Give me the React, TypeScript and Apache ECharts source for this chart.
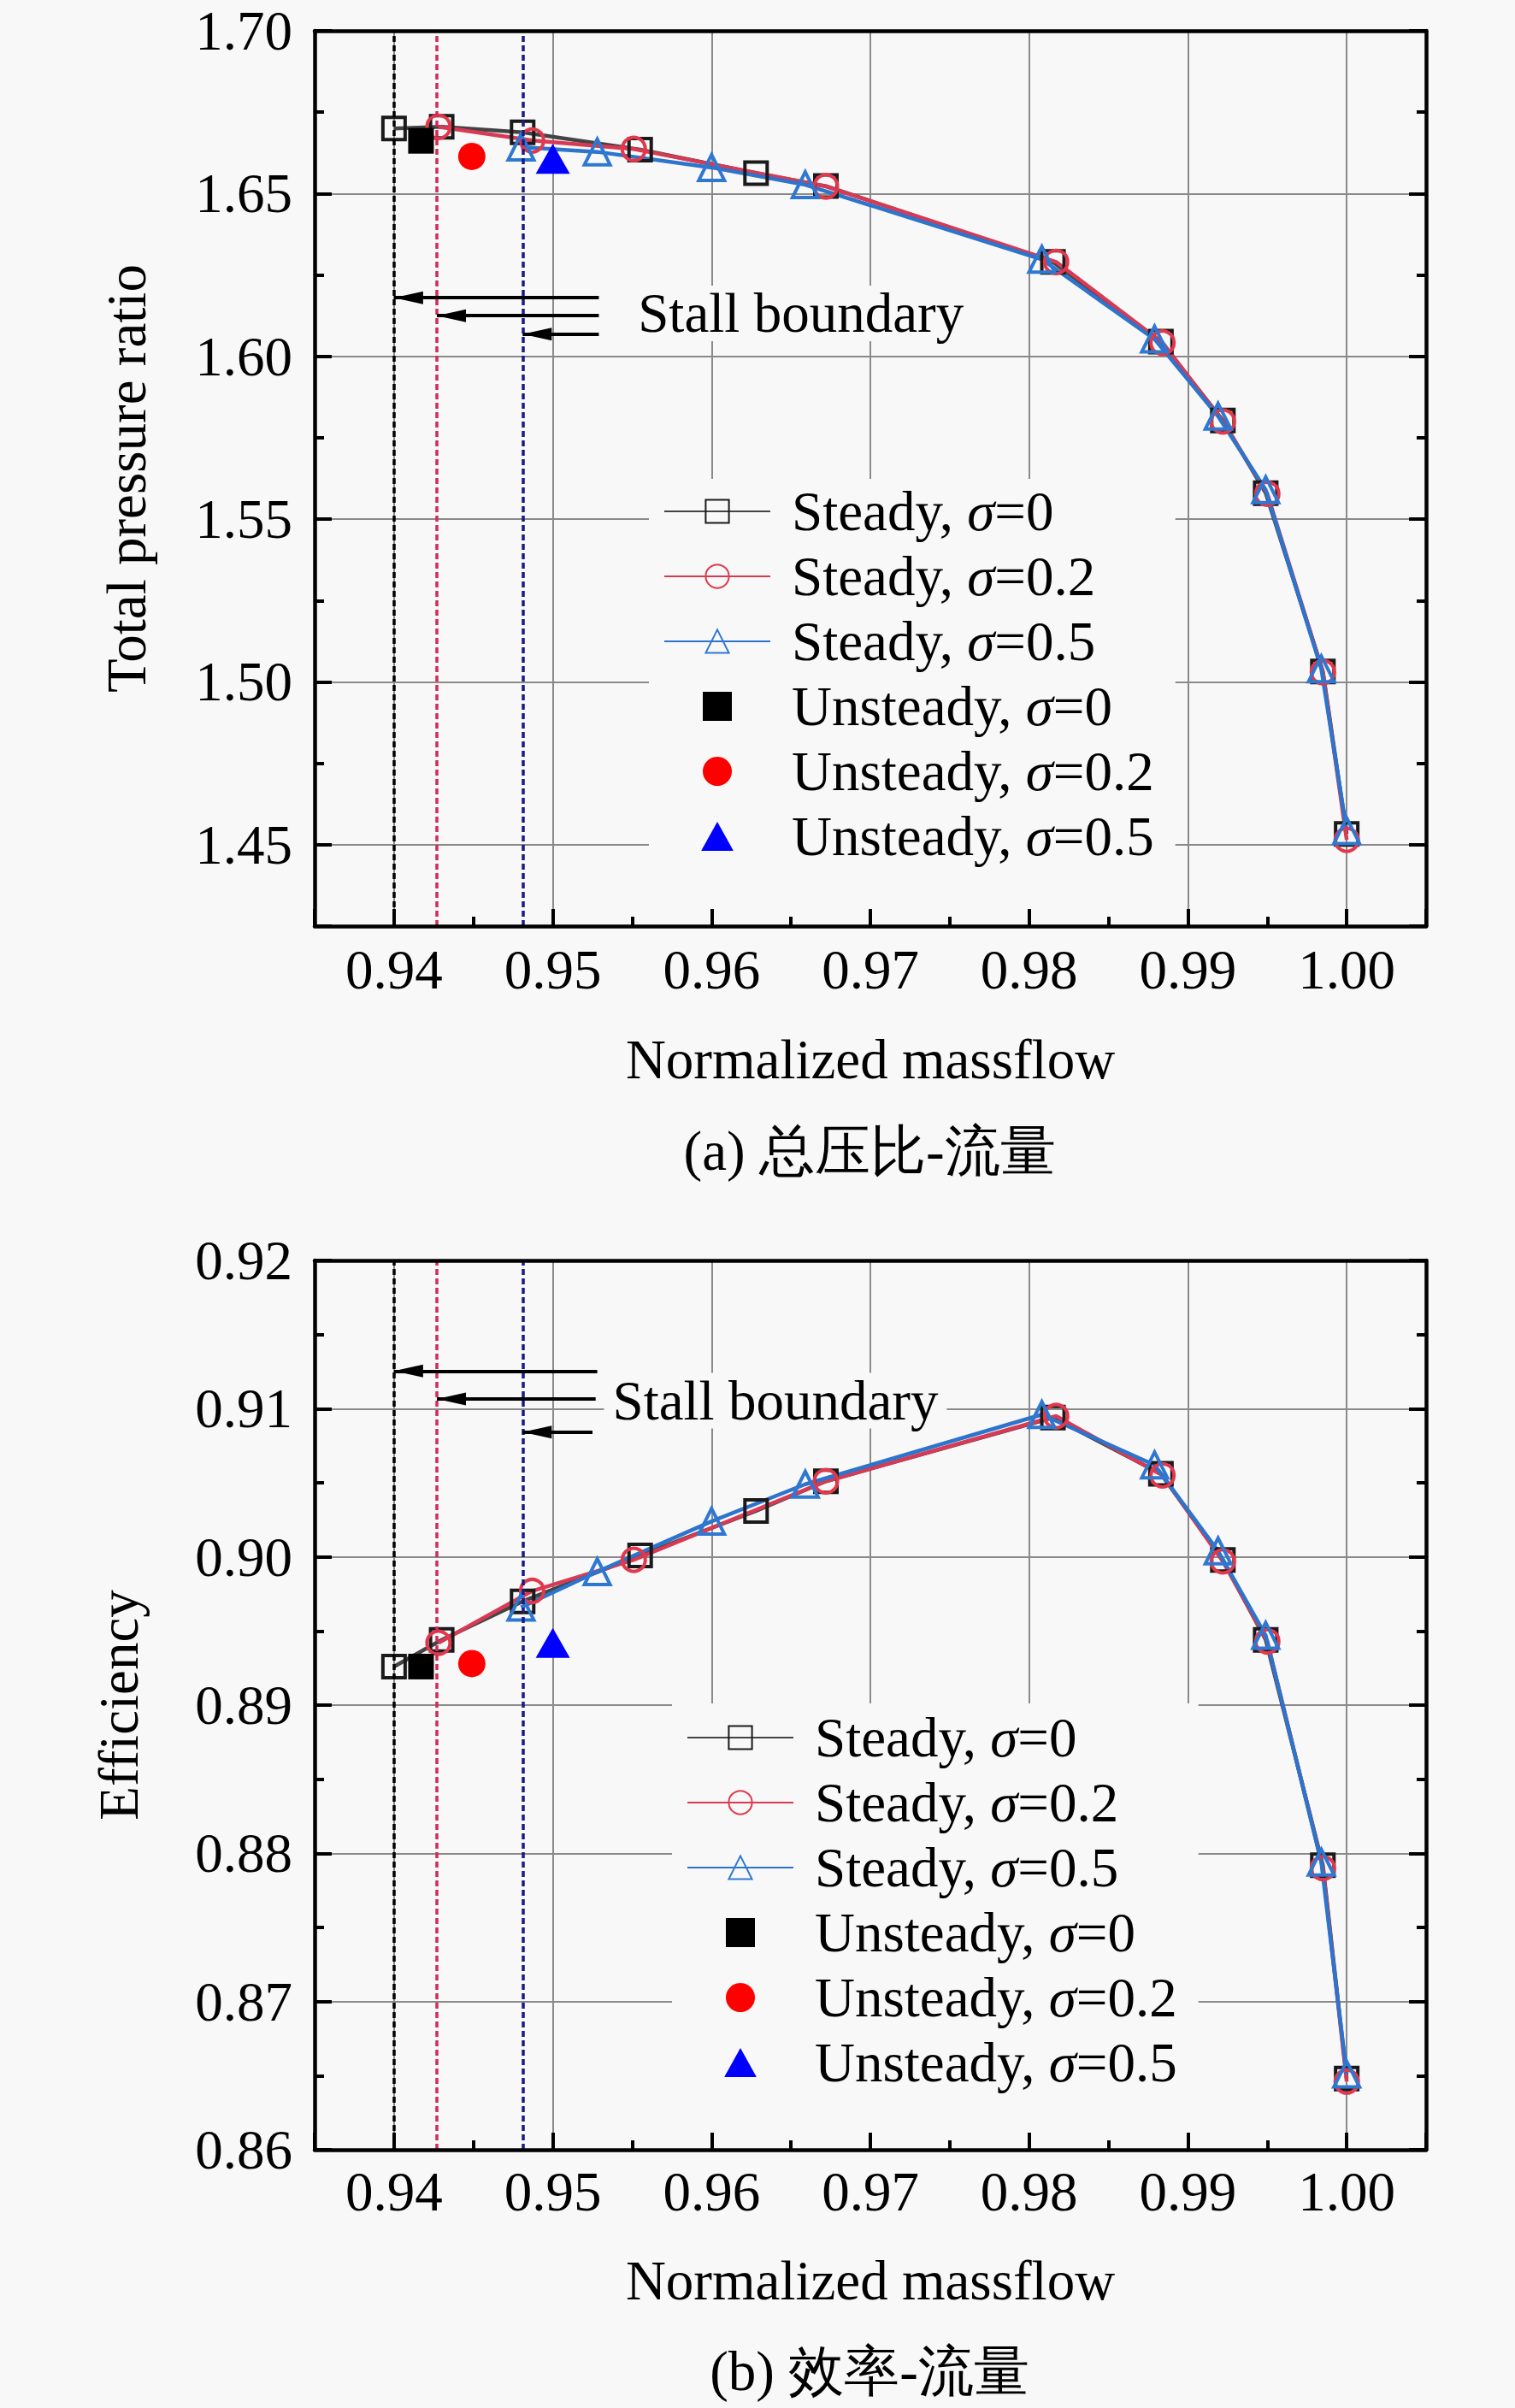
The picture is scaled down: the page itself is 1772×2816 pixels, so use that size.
import { useEffect, useRef } from 'react'
import * as echarts from 'echarts'

const FONT = 'Liberation Serif'
const BG = '#f8f8f8'
const FS = 65

const seriesNames = [
  'Steady, σ=0',
  'Steady, σ=0.2',
  'Steady, σ=0.5',
  'Unsteady, σ=0',
  'Unsteady, σ=0.2',
  'Unsteady, σ=0.5',
]

// steady, sigma = 0
const flowS0 = [0.94, 0.943, 0.9481, 0.9555, 0.9628, 0.9672, 0.9815, 0.9883, 0.9922, 0.9949, 0.9985, 1.0]
const prS0 = [1.67, 1.6705, 1.6688, 1.6635, 1.6563, 1.6523, 1.629, 1.6045, 1.5803, 1.558, 1.5032, 1.4533]
const effS0 = [0.8926, 0.8944, 0.897, 0.9001, 0.9031, 0.9051, 0.9094, 0.9056, 0.8998, 0.8944, 0.8792, 0.8648]

// steady, sigma = 0.2
const flowS2 = [0.9428, 0.9487, 0.9551, 0.9672, 0.9817, 0.9884, 0.9922, 0.995, 0.9985, 1.0]
const prS2 = [1.6705, 1.6663, 1.6637, 1.6522, 1.629, 1.6042, 1.58, 1.5578, 1.503, 1.4515]
const effS2 = [0.8942, 0.8977, 0.8998, 0.9051, 0.9095, 0.9055, 0.8997, 0.8943, 0.879, 0.8646]

// steady, sigma = 0.5
const flowS5 = [0.948, 0.9528, 0.96, 0.9659, 0.9808, 0.9879, 0.9919, 0.9949, 0.9984, 1.0]
const prS5 = [1.6643, 1.6628, 1.658, 1.6527, 1.6298, 1.6053, 1.5816, 1.559, 1.504, 1.4543]
const effS5 = [0.8966, 0.899, 0.9024, 0.9049, 0.9096, 0.9062, 0.9004, 0.8947, 0.8794, 0.8651]

// unsteady: sigma = 0, 0.2, 0.5
const flowU = [0.9417, 0.9449, 0.95]
const prU = [1.6662, 1.6614, 1.6607]
const effU = [0.8926, 0.8928, 0.8942]

// stall boundary lines and arrows
const stallFlow = [0.94, 0.9427, 0.9481]
const stallColors = ['#000000', '#d42a58', '#1a1a86']
const arrowStartPr = [0.9529, 0.9529, 0.9529]
const arrowLevelPr = [1.618, 1.6125, 1.6068]
const arrowStartEff = [0.9528, 0.9527, 0.9525]
const arrowLevelEff = [0.91254, 0.91066, 0.90842]

const X_MIN = 0.935
const X_MAX = 1.005

const pairs = (xs: number[], ys: number[]) => xs.map((x, i) => [x, ys[i]])

const tickLine = { color: '#000', width: 4 }
const boxLine = { show: true, onZero: false, lineStyle: { color: '#000', width: 4.5 } }
const off = { show: false }
const gridLine = { show: true, showMinLine: false, showMaxLine: false, lineStyle: { color: '#8a8a8a', width: 2 } }

function xAxesFor(g: number, margin: number, nameGap: number) {
  const base = { type: 'value', gridIndex: g, min: X_MIN, max: X_MAX, splitNumber: 5 }
  return [
    {
      ...base,
      position: 'bottom',
      name: 'Normalized massflow',
      nameLocation: 'middle',
      nameGap,
      nameTextStyle: { fontFamily: FONT, fontSize: FS, color: '#000' },
      axisLine: off,
      axisTick: off,
      axisLabel: {
        margin,
        fontFamily: FONT,
        fontSize: FS,
        color: '#000',
        showMinLabel: false,
        showMaxLabel: false,
        formatter: (v: number) => v.toFixed(2),
      },
      splitLine: gridLine,
    },
    {
      ...base,
      position: 'bottom',
      z: 10,
      axisLine: boxLine,
      axisTick: { show: true, inside: true, length: 20, lineStyle: tickLine },
      axisLabel: off,
      splitLine: off,
    },
    {
      type: 'value',
      gridIndex: g,
      min: X_MIN,
      max: X_MAX,
      interval: 0.005,
      position: 'bottom',
      z: 10,
      axisLine: off,
      axisTick: { show: true, inside: true, length: 11, lineStyle: tickLine },
      axisLabel: off,
      splitLine: off,
    },
    { ...base, position: 'top', z: 10, axisLine: boxLine, axisTick: off, axisLabel: off, splitLine: off },
  ]
}

function yAxesFor(g: number, min: number, max: number, major: number | undefined, minor: number, name: string, nameGap: number) {
  const base: any = { type: 'value', gridIndex: g, min, max }
  if (major) base.interval = major
  else base.splitNumber = 5
  const minorBase = { type: 'value', gridIndex: g, min, max, interval: minor, z: 10, axisLine: off, axisLabel: off, splitLine: off }
  return [
    {
      ...base,
      position: 'left',
      name,
      nameLocation: 'middle',
      nameRotate: 90,
      nameGap,
      nameTextStyle: { fontFamily: FONT, fontSize: FS, color: '#000' },
      axisLine: off,
      axisTick: off,
      axisLabel: {
        margin: 26,
        fontFamily: FONT,
        fontSize: FS,
        color: '#000',
        showMinLabel: !!major,
        formatter: (v: number) => v.toFixed(2),
      },
      splitLine: gridLine,
    },
    { ...base, position: 'left', z: 10, axisLine: boxLine, axisTick: { show: true, inside: true, length: 20, lineStyle: tickLine }, axisLabel: off, splitLine: off },
    { ...minorBase, position: 'left', axisTick: { show: true, inside: true, length: 11, lineStyle: tickLine } },
    { ...base, position: 'right', z: 10, axisLine: boxLine, axisTick: { show: true, inside: true, length: 20, lineStyle: tickLine }, axisLabel: off, splitLine: off },
    { ...minorBase, position: 'right', axisTick: { show: true, inside: true, length: 11, lineStyle: tickLine } },
  ]
}

function seriesFor(
  g: number,
  s0: number[],
  s2: number[],
  s5: number[],
  u: number[],
  arrowStart: number[],
  arrowLevel: number[],
  textAt: number[],
) {
  const ax = { xAxisIndex: g * 4, yAxisIndex: g * 5 }
  return [
    {
      ...ax,
      name: seriesNames[0],
      type: 'line',
      data: pairs(flowS0, s0),
      symbol: 'rect',
      symbolSize: 26,
      itemStyle: { color: 'transparent', borderColor: '#1a1a1a', borderWidth: 4 },
      lineStyle: { color: '#444', width: 4.5 },
    },
    {
      ...ax,
      name: seriesNames[1],
      type: 'line',
      data: pairs(flowS2, s2),
      symbol: 'circle',
      symbolSize: 27,
      itemStyle: { color: 'transparent', borderColor: '#e2384c', borderWidth: 4 },
      lineStyle: { color: '#d83a55', width: 4.5 },
    },
    {
      ...ax,
      name: seriesNames[2],
      type: 'line',
      data: pairs(flowS5, s5),
      symbol: 'triangle',
      symbolSize: 30,
      itemStyle: { color: 'transparent', borderColor: '#2f78d2', borderWidth: 4 },
      lineStyle: { color: '#2c74cc', width: 4.5 },
    },
    {
      ...ax,
      name: seriesNames[3],
      type: 'scatter',
      data: [[flowU[0], u[0]]],
      symbol: 'rect',
      symbolSize: 30,
      itemStyle: { color: '#000', opacity: 1 },
      z: 5,
    },
    {
      ...ax,
      name: seriesNames[4],
      type: 'scatter',
      data: [[flowU[1], u[1]]],
      symbol: 'circle',
      symbolSize: 32,
      itemStyle: { color: '#ff0000', opacity: 1 },
      z: 5,
    },
    {
      ...ax,
      name: seriesNames[5],
      type: 'scatter',
      data: [[flowU[2], u[2]]],
      symbol: 'triangle',
      symbolSize: [40, 35],
      itemStyle: { color: '#0000ff', opacity: 1 },
      z: 5,
    },
    {
      ...ax,
      name: 'stall',
      type: 'line',
      data: [],
      markLine: {
        silent: true,
        precision: 5,
        symbol: ['none', 'none'],
        label: { show: false },
        data: [
          ...stallFlow.map((x, i) => ({
            xAxis: x,
            lineStyle: { color: stallColors[i], type: [7, 4], width: 3.5 },
          })),
          ...stallFlow.map((x, i) => [
            { coord: [arrowStart[i], arrowLevel[i]], symbol: 'none', lineStyle: { color: '#000', width: 4, type: 'solid' } },
            { coord: [x, arrowLevel[i]], symbol: 'triangle', symbolSize: [15, 34], symbolOffset: [0, 17] },
          ]),
        ],
      },
      markPoint: {
        silent: true,
        data: [
          {
            coord: textAt,
            symbol: 'rect',
            symbolSize: 1,
            itemStyle: { color: 'transparent' },
            label: {
              show: true,
              position: 'right',
              distance: 0,
              formatter: 'Stall boundary',
              fontFamily: FONT,
              fontSize: FS,
              color: '#000',
              backgroundColor: BG,
              padding: [0, 10],
            },
          },
        ],
      },
    },
  ]
}

const legendIcons = [
  undefined,
  undefined,
  undefined,
  'path://M0,0H10V10H0Z',
  'circle',
  'path://M5,0L10,9L0,9Z',
]

function legendFor(left: number, top: number, padTop: number, padBottom: number) {
  return {
    orient: 'vertical',
    left,
    top,
    padding: [padTop, 25, padBottom, 17],
    backgroundColor: BG,
    itemWidth: 124,
    itemHeight: 34,
    itemGap: 10,
    selectedMode: false,
    symbolKeepAspect: true,
    data: seriesNames.map((name, i) => (legendIcons[i] ? { name, icon: legendIcons[i] } : { name })),
    formatter: (n: string) => '{s| }' + n.replace('σ', '{i|σ}'),
    textStyle: {
      fontFamily: FONT,
      fontSize: FS,
      lineHeight: 66,
      color: '#000',
      rich: {
        s: { width: 20, fontFamily: FONT, fontSize: FS },
        i: { fontStyle: 'italic', fontFamily: FONT, fontSize: FS, color: '#000' },
      },
    },
  }
}

function buildOption(): any {
  return {
    animation: false,
    backgroundColor: BG,
    textStyle: { fontFamily: FONT },
    grid: [
      { left: 368, top: 36, width: 1300, height: 1047 },
      { left: 368, top: 1474, width: 1300, height: 1040 },
    ],
    xAxis: [...xAxesFor(0, 18, 123), ...xAxesFor(1, 16, 120)],
    yAxis: [
      ...yAxesFor(0, 1.425, 1.7, undefined, 0.025, 'Total pressure ratio', 188),
      ...yAxesFor(1, 0.86, 0.92, 0.01, 0.005, 'Efficiency', 197),
    ],
    legend: [legendFor(759, 560, 5, 70), legendFor(786, 1992, 7, 66)],
    series: [
      ...seriesFor(0, prS0, prS2, prS5, prU, arrowStartPr, arrowLevelPr, [0.9548, 1.6132]),
      ...seriesFor(1, effS0, effS2, effS5, effU, arrowStartEff, arrowLevelEff, [0.9532, 0.91054]),
    ],
    graphic: [
      {
        type: 'text',
        x: 1017,
        y: 1346,
        style: { text: '(a) 总压比-流量', align: 'center', verticalAlign: 'middle', fontFamily: FONT, fontSize: FS, fill: '#000' },
      },
      {
        type: 'text',
        x: 1017,
        y: 2773,
        style: { text: '(b) 效率-流量', align: 'center', verticalAlign: 'middle', fontFamily: FONT, fontSize: FS, fill: '#000' },
      },
    ],
  }
}

export default function App() {
  const chartRef = useRef<HTMLDivElement>(null)

  useEffect(() => {
    if (!chartRef.current) return
    const chart = echarts.init(chartRef.current, undefined, { renderer: 'svg' })
    chart.setOption(buildOption())
    return () => {
      chart.dispose()
    }
  }, [])

  return (
    <div
      ref={chartRef}
      style={{ position: 'absolute', left: 0, top: 0, width: 1772, height: 2816, background: BG }}
    />
  )
}
